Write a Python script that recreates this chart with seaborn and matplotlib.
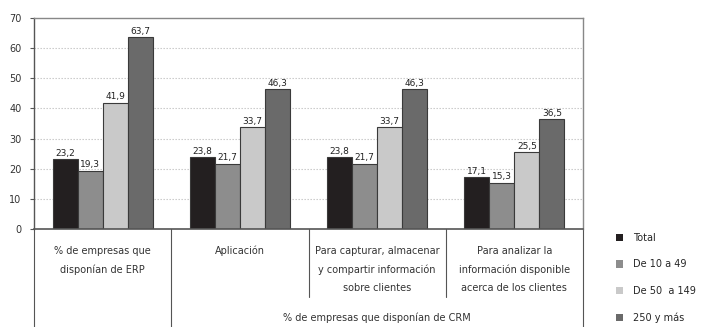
import matplotlib
matplotlib.use("Agg")
import matplotlib.pyplot as plt
import seaborn as sns
import pandas as pd
from matplotlib.patches import Patch
from matplotlib.lines import Line2D

categories = ["% de empresas que\ndisponían de ERP", "Aplicación",
              "Para capturar, almacenar\ny compartir información\nsobre clientes",
              "Para analizar la\ninformación disponible\nacerca de los clientes"]
series = ["Total", "De 10 a 49", "De 50  a 149", "250 y más"]
total = [23.2, 23.8, 23.8, 17.1]
de10 = [19.3, 21.7, 21.7, 15.3]
de50 = [41.9, 33.7, 33.7, 25.5]
de250 = [63.7, 46.3, 46.3, 36.5]
group_label = "% de empresas que disponían de CRM"
yticks = [0, 10, 20, 30, 40, 50, 60, 70]

colors = ["#231f20", "#8d8d8d", "#c9c9c9", "#6a6a6a"]

rows = []
for s, vals in zip(series, [total, de10, de50, de250]):
    for c, v in zip(categories, vals):
        rows.append({"cat": c, "serie": s, "val": v})
df = pd.DataFrame(rows)

sns.set_style("white")
plt.rcParams['font.family'] = ['DejaVu Sans']

fig = plt.figure(figsize=(7.03, 3.27), dpi=100)
ax = fig.add_axes([34/703, 98/327, 549/703, 211/327])

sns.barplot(data=df, x="cat", y="val", hue="serie", order=categories,
            hue_order=series, palette=colors, width=0.73, ax=ax,
            edgecolor="#3a3a3a", linewidth=0.8, legend=False, saturation=1)

for cont in ax.containers:
    ax.bar_label(cont, labels=[f"{v:.1f}".replace(".", ",") for v in cont.datavalues],
                 fontsize=6.5, padding=1, color="#222222")

ax.set_xlim(-0.5, 3.5)
ax.set_ylim(0, 70)
ax.set_yticks(yticks)
ax.set_yticklabels([str(t) for t in yticks], fontsize=7, color="#333333")
ax.set_xticks([])
ax.set_xlabel("")
ax.set_ylabel("")
ax.tick_params(axis="y", length=3, width=0.8, color="#555555", pad=6, left=True)
for t in [10, 20, 30, 40, 50, 60]:
    ax.axhline(t, color="#c4c4c4", linestyle=(0, (1.2, 1.5)), linewidth=0.8, zorder=0)
for sp in ["top", "right"]:
    ax.spines[sp].set_color("#888888")
    ax.spines[sp].set_linewidth(1.0)
ax.spines["left"].set_color("#555555")
ax.spines["bottom"].set_color("#555555")
ax.spines["left"].set_linewidth(1.0)
ax.spines["bottom"].set_linewidth(1.2)

# table lines below axes
trans = ax.get_xaxis_transform()
ybot = -98/211
ymid = -68/211
for x, yb in [(-0.5, ybot), (0.5, ybot), (1.5, ymid), (2.5, ymid), (3.5, ybot)]:
    ax.add_line(Line2D([x, x], [0, yb], transform=trans, color="#555555",
                       linewidth=0.8, clip_on=False))
for i, c in enumerate(categories):
    ax.text(i, -17/211, c, transform=trans, ha="center", va="top", fontsize=7,
            color="#333333", linespacing=2.0)
ax.text(2, -89/211, group_label, transform=trans, ha="center", va="center",
        fontsize=7, color="#333333")

handles = [Patch(facecolor=c, edgecolor="none") for c in colors]
fig.legend(handles, series, loc="upper left", bbox_to_anchor=(612/703, 1 - 229/327),
           frameon=False, fontsize=7, handlelength=0.75, handleheight=0.75,
           handletextpad=1.0, labelspacing=1.7, borderaxespad=0)

fig.savefig("out.png", dpi=100)
